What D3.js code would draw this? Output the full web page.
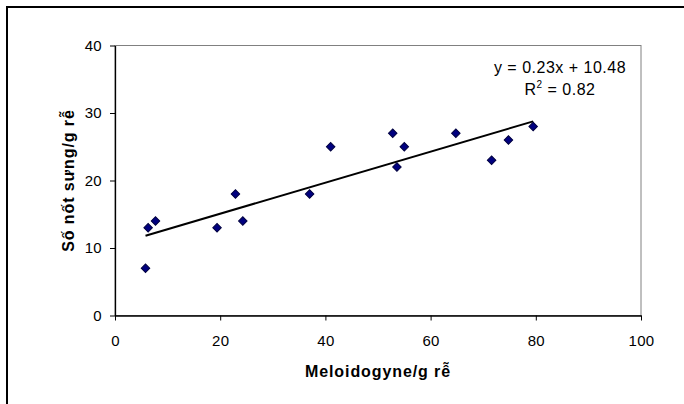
<!DOCTYPE html>
<html>
<head>
<meta charset="utf-8">
<script src="https://cdn.jsdelivr.net/npm/d3@7"></script>
<style>
  html, body { margin: 0; padding: 0; background: #fff; overflow: hidden; }
  text { font-family: "Liberation Sans", Arial, sans-serif; }
</style>
</head>
<body>
<div id="viz"></div>
<script>
'use strict';

// data
const meloidogyne = [5.8, 6.3, 7.7, 19.4, 22.9, 24.3, 37.0, 41.0, 52.8, 53.6, 55.0, 64.8, 71.6, 74.8, 79.5];
const galls = [7, 13, 14, 13, 18, 14, 18, 25, 27, 22, 25, 27, 23, 26, 28];
const xTicks = [0, 20, 40, 60, 80, 100];
const yTicks = [0, 10, 20, 30, 40];
const slope = 0.23;
const intercept = 10.48;
const equationText = 'y = 0.23x + 10.48';
const r2Value = '0.82';

const W = 684, H = 404;
const margin = {top: 45.5, right: 43, bottom: 88.5, left: 115};
const width = W - margin.left - margin.right;
const height = H - margin.top - margin.bottom;

const svg = d3.select('#viz')
  .append('svg')
    .attr('width', W)
    .attr('height', H);

// outer chart frame, runs off the right and bottom edges
svg.append('rect')
  .attr('x', 7)
  .attr('y', 7)
  .attr('width', W + 20)
  .attr('height', H + 20)
  .attr('fill', 'none')
  .attr('stroke', '#000')
  .attr('stroke-width', 2);

const g = svg.append('g')
  .attr('transform', `translate(${margin.left},${margin.top})`);

const x = d3.scaleLinear().domain([0, 100]).range([0, width]);
const y = d3.scaleLinear().domain([0, 40]).range([height, 0]);

// plot area border
g.append('rect')
  .attr('width', width)
  .attr('height', height)
  .attr('fill', 'none')
  .attr('stroke', '#808080')
  .attr('stroke-width', 1);

const xAxis = g.append('g')
  .attr('transform', `translate(0,${height})`)
  .call(d3.axisBottom(x).tickValues(xTicks).tickSize(5).tickPadding(15).tickSizeOuter(0));

const yAxis = g.append('g')
  .call(d3.axisLeft(y).tickValues(yTicks).tickSize(5).tickPadding(8).tickSizeOuter(0));

for (const ax of [xAxis, yAxis]) {
  ax.select('.domain').attr('stroke', '#000').attr('stroke-width', 1.3);
  ax.selectAll('.tick line').attr('stroke', '#000');
  ax.selectAll('.tick text')
    .attr('fill', '#000')
    .style('font-size', '15px')
    .style('letter-spacing', '0.3px')
    .style('font-family', '"Liberation Sans", Arial, sans-serif');
}

// trend line over the range of the data
const xr = d3.extent(meloidogyne);
g.append('path')
  .datum(xr)
  .attr('fill', 'none')
  .attr('stroke', '#000')
  .attr('stroke-width', 2)
  .attr('d', d3.line()
    .x(d => x(d))
    .y(d => y(slope * d + intercept)));

// diamond markers
const marker = d3.symbol().type(d3.symbolSquare).size(36);
g.selectAll('.pt')
  .data(meloidogyne.map((m, i) => [m, galls[i]]))
  .join('path')
    .attr('class', 'pt')
    .attr('d', marker)
    .attr('transform', d => `translate(${x(d[0])},${y(d[1])}) rotate(45)`)
    .attr('fill', '#000080')
    .attr('stroke', '#000040')
    .attr('stroke-width', 1);

// equation label
const eq = g.append('text')
  .attr('text-anchor', 'middle')
  .style('font-size', '16px')
  .style('letter-spacing', '0.5px')
  .attr('fill', '#000');
eq.append('tspan')
  .attr('x', 445)
  .attr('y', 27.5)
  .text(equationText);
const r2 = eq.append('tspan')
  .attr('x', 445)
  .attr('y', 49);
r2.append('tspan').text('R');
r2.append('tspan').attr('dy', -7).style('font-size', '10px').text('2');
r2.append('tspan').attr('dy', 7).text(' = ' + r2Value);

// axis titles
svg.append('text')
  .attr('x', margin.left + width / 2)
  .attr('y', 377)
  .attr('text-anchor', 'middle')
  .style('font-size', '16px')
  .style('letter-spacing', '0.9px')
  .style('font-weight', 'bold')
  .text('Meloidogyne/g rễ');

svg.append('text')
  .attr('transform', `translate(74,${margin.top + height / 2}) rotate(-90)`)
  .attr('text-anchor', 'middle')
  .style('font-size', '16px')
  .style('letter-spacing', '0.9px')
  .style('font-weight', 'bold')
  .text('Số nốt sưng/g rễ');
</script>
</body>
</html>
